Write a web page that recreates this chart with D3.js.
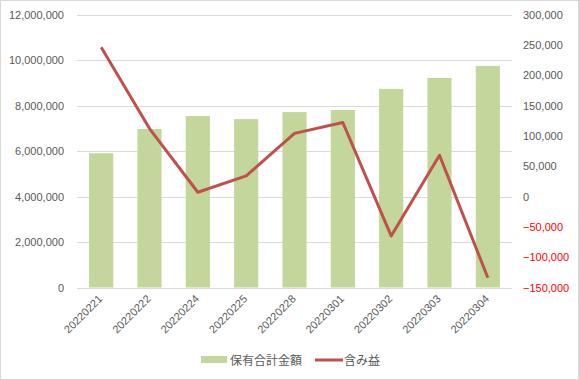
<!DOCTYPE html>
<html><head><meta charset="utf-8">
<script src="https://cdn.jsdelivr.net/npm/d3@7"></script>
<style>body{margin:0;background:#fff}svg{display:block}</style>
</head><body>
<svg id="c" width="579" height="380"></svg>
<script>
const categories = ["20220221","20220222","20220224","20220225","20220228","20220301","20220302","20220303","20220304"];
const holdings = [5900000,6970000,7540000,7400000,7710000,7800000,8730000,9210000,9740000];
const unrealized = [246000,112000,7000,34000,104000,122000,-65000,68000,-134000];
const leftTicks = [0,2000000,4000000,6000000,8000000,10000000,12000000];
const rightTicks = [-150000,-100000,-50000,0,50000,100000,150000,200000,250000,300000];
const seriesNames = ["保有合計金額","含み益"];

const svg = d3.select("#c");
const W = 579, H = 380;
const m = {left:77, right:512, top:14.5, bottom:287.5};
const font = "'Liberation Sans', Arial, sans-serif";
const jfont = "'Noto Sans CJK JP', sans-serif";

svg.append("rect").attr("x",0.5).attr("y",0.5).attr("width",W-1).attr("height",H-1)
  .attr("fill","#fff").attr("stroke","#d9d9d9");

const x = d3.scaleBand().domain(categories).range([m.left,m.right]).paddingInner(0.5).paddingOuter(0.25);
const yL = d3.scaleLinear().domain([0,12000000]).range([m.bottom,m.top]);
const yR = d3.scaleLinear().domain([-150000,300000]).range([m.bottom,m.top]);
const fmt = d3.format(",");

// gridlines
svg.append("g").selectAll("line").data(leftTicks).join("line")
  .attr("x1",m.left).attr("x2",m.right)
  .attr("y1",d=>Math.round(yL(d))+0.5).attr("y2",d=>Math.round(yL(d))+0.5)
  .attr("stroke","#d9d9d9").attr("stroke-width",1);

// left axis labels
svg.append("g").selectAll("text").data(leftTicks).join("text")
  .attr("x",64).attr("y",d=>yL(d)+4)
  .attr("text-anchor","end").attr("font-family",font).attr("font-size",11)
  .attr("fill","#595959").text(d=>fmt(d));

// right axis labels
svg.append("g").selectAll("text").data(rightTicks).join("text")
  .attr("x",523).attr("y",d=>yR(d)+4)
  .attr("text-anchor","start").attr("font-family",font).attr("font-size",11)
  .attr("fill",d=>d<0?"#ff0000":"#595959").text(d=>fmt(d));

// bars
svg.append("g").selectAll("rect").data(holdings).join("rect")
  .attr("x",(d,i)=>x(categories[i])).attr("width",x.bandwidth())
  .attr("y",d=>yL(d)).attr("height",d=>yL(0)-yL(d))
  .attr("fill","#c3d69b");

// x labels
svg.append("g").selectAll("text").data(categories).join("text")
  .attr("transform",d=>`translate(${x(d)+x.bandwidth()/2+2},${m.bottom+12}) rotate(-45)`)
  .attr("text-anchor","end").attr("font-family",font).attr("font-size",11)
  .attr("fill","#595959").text(d=>d);

// line
const line = d3.line().x((d,i)=>x(categories[i])+x.bandwidth()/2).y(d=>yR(d));
svg.append("path").datum(unrealized).attr("d",line)
  .attr("fill","none").attr("stroke","#c0504d").attr("stroke-width",3)
  .attr("stroke-linejoin","round");

// legend
const lg = svg.append("g");
lg.append("rect").attr("x",201).attr("y",356).attr("width",26).attr("height",7).attr("fill","#c3d69b");
lg.append("text").attr("x",230).attr("y",364.5).attr("font-family",jfont).attr("font-size",12)
  .attr("fill","#595959").text(seriesNames[0]);
lg.append("line").attr("x1",315).attr("x2",343).attr("y1",360).attr("y2",360)
  .attr("stroke","#c0504d").attr("stroke-width",3);
lg.append("text").attr("x",344).attr("y",364.5).attr("font-family",jfont).attr("font-size",12)
  .attr("fill","#595959").text(seriesNames[1]);
</script>
</body></html>
